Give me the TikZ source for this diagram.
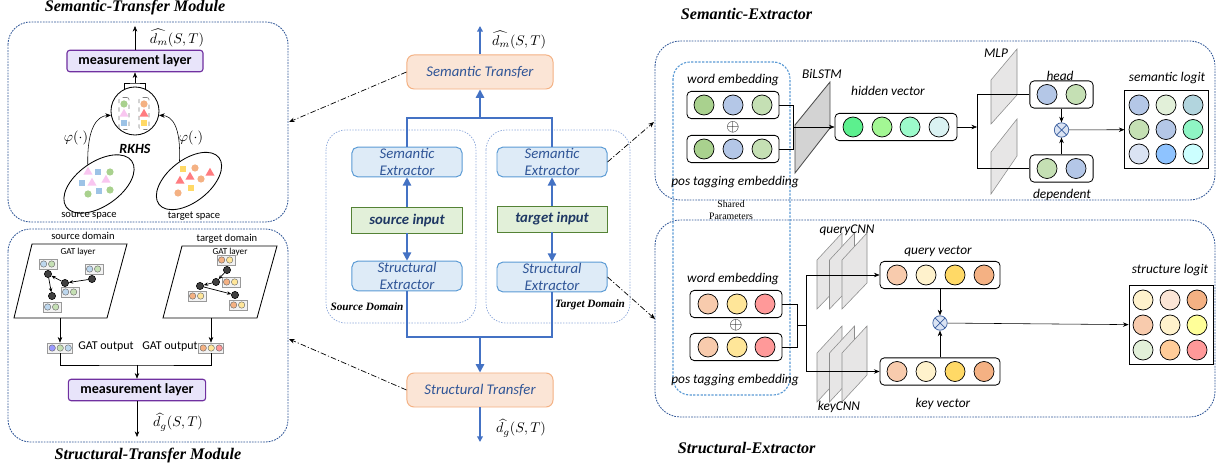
\documentclass[tikz,border=0pt]{standalone}
\usepackage{amsmath,amssymb}
\usepackage{fontspec}
\setmainfont{Liberation Serif}
\setsansfont{Carlito}
\usepackage{xcolor}
\usepackage{tikz}
\usetikzlibrary{arrows.meta, positioning, shapes.geometric, calc}

% frame and box colours
\definecolor{modframe}{HTML}{2F5597}
\definecolor{shareframe}{HTML}{5B9BD5}
\definecolor{domframe}{HTML}{8EA9DB}
\definecolor{flowblue}{HTML}{4472C4}
\definecolor{boxtext}{HTML}{2F5597}
\definecolor{trfill}{HTML}{FBE5D6}
\definecolor{trdraw}{HTML}{F4B183}
\definecolor{exfill}{HTML}{DEEBF7}
\definecolor{exdraw}{HTML}{5B9BD5}
\definecolor{infill}{HTML}{E2F0D9}
\definecolor{indraw}{HTML}{548235}
\definecolor{intext}{HTML}{1F3864}
\definecolor{msfill}{HTML}{E8E4FA}
\definecolor{msdraw}{HTML}{7030A0}
\definecolor{layergray}{HTML}{E7E6E6}
\definecolor{lstmgray}{HTML}{D3D3D3}
\definecolor{otfill}{HTML}{DAE3F3}
% cell colours
\definecolor{gA}{HTML}{A9D18E}
\definecolor{bA}{HTML}{B4C7E7}
\definecolor{gB}{HTML}{C5E0B4}
\definecolor{hA}{HTML}{5CF08E}
\definecolor{hB}{HTML}{A3F794}
\definecolor{hC}{HTML}{9CFBCB}
\definecolor{hD}{HTML}{DAF2F2}
\definecolor{sA}{HTML}{E2F0D9}
\definecolor{sB}{HTML}{B2D5DE}
\definecolor{sC}{HTML}{8FF5C4}
\definecolor{sD}{HTML}{DAE3F3}
\definecolor{sE}{HTML}{8EC3FF}
\definecolor{sF}{HTML}{CCFFFF}
\definecolor{pA}{HTML}{F8CBAD}
\definecolor{yA}{HTML}{FFE699}
\definecolor{rA}{HTML}{FF9999}
\definecolor{yB}{HTML}{FFF2CC}
\definecolor{yC}{HTML}{FFD966}
\definecolor{oA}{HTML}{F4B183}
\definecolor{pB}{HTML}{FBE5D6}
\definecolor{yD}{HTML}{FFFF99}
\definecolor{oB}{HTML}{FFCC99}
\definecolor{vA}{HTML}{9999FF}
\definecolor{bC}{HTML}{BDD7EE}
% little shapes in the two spaces
\definecolor{pinkT}{HTML}{F9C6F0}
\definecolor{blueS}{HTML}{9DC3E6}
\definecolor{greenC}{HTML}{A9D18E}
\definecolor{orangeC}{HTML}{F4B183}
\definecolor{redT}{HTML}{FF7C80}
\definecolor{yellowS}{HTML}{FFD966}

% small boxed vector: name, position, box width, cell colours
\newcommand{\minivec}[4]{%
  \node[minibox, minimum width=#3] (#1) at (#2) {};
  \foreach \col [count=\k] in {#4}
    \node[minicell, fill=\col] (#1\k) at ($(#1.west)+(\k*8-3,0)$) {};
}

\begin{document}
\begin{tikzpicture}[
    x=0.025cm, y=-0.025cm,
    >={Stealth[length=4pt,width=3.2pt]},
    module/.style={draw=modframe, line width=0.6pt, dash pattern=on 1.2pt off 0.8pt, rounded corners=16pt},
    shared/.style={draw=shareframe, line width=0.8pt, dash pattern=on 1.6pt off 1pt, rounded corners=12pt},
    domainbox/.style={draw=domframe, line width=0.5pt, dash pattern=on 1pt off 1pt, rounded corners=14pt},
    title/.style={font=\rmfamily\bfseries\itshape\fontsize{11.5}{13}\selectfont},
    domlbl/.style={font=\rmfamily\bfseries\itshape\fontsize{8}{9}\selectfont},
    measure/.style={draw=msdraw, fill=msfill, line width=0.8pt, rounded corners=2pt,
                    minimum height=0.5cm, font=\sffamily\bfseries\fontsize{10}{12}\selectfont},
    transfer/.style={draw=trdraw, fill=trfill, line width=0.7pt, rounded corners=5pt,
                     minimum width=3.65cm, minimum height=0.85cm, text=boxtext,
                     font=\sffamily\itshape\fontsize{10.5}{12}\selectfont},
    extractor/.style={draw=exdraw, fill=exfill, line width=0.7pt, rounded corners=4pt,
                      minimum width=2.75cm, minimum height=0.74cm, align=center, inner sep=1pt,
                      text=boxtext, font=\sffamily\itshape\fontsize{10.5}{11.5}\selectfont},
    inbox/.style={draw=indraw, fill=infill, line width=0.7pt, minimum width=2.75cm,
                  minimum height=0.65cm, text=intext,
                  font=\sffamily\bfseries\itshape\fontsize{10.5}{12}\selectfont},
    flowline/.style={draw=flowblue, line width=1.1pt},
    flowarrow/.style={flowline, -{Triangle[length=6pt,width=6pt]}},
    link/.style={->, line width=0.5pt, dash pattern=on 4pt off 1.5pt on 0.8pt off 1.5pt},
    vecbox/.style={draw, fill=white, line width=0.6pt, rounded corners=3pt, minimum height=0.68cm},
    cell/.style={circle, draw, line width=0.5pt, inner sep=0pt, minimum size=0.5cm},
    minibox/.style={draw=black!40, fill=black!5, line width=0.5pt, minimum height=0.25cm, inner sep=0pt},
    minicell/.style={circle, draw=black!60, line width=0.3pt, inner sep=0pt, minimum size=0.16cm},
    gdot/.style={circle, draw, fill=black!75, inner sep=0pt, minimum size=0.18cm},
    gedge/.style={-{Stealth[length=3pt,width=2.5pt]}, line width=0.5pt},
    otimes/.style={circle, draw=flowblue!80!black, fill=otfill, line width=0.5pt, inner sep=0pt,
                   minimum size=0.36cm,
                   path picture={\draw[flowblue!80!black, line width=0.5pt]
                     (path picture bounding box.north west) -- (path picture bounding box.south east)
                     (path picture bounding box.north east) -- (path picture bounding box.south west);}},
    oplus/.style={inner sep=0pt, font=\fontsize{13}{13}\selectfont},
    lbl/.style={font=\sffamily\itshape\fontsize{9.5}{11}\selectfont},
    sm/.style={font=\sffamily\fontsize{7.5}{9}\selectfont},
    tinylbl/.style={font=\sffamily\fontsize{6.5}{8}\selectfont},
    mathlbl/.style={inner sep=0.5pt, font=\fontsize{10}{12}\selectfont},
    plane/.style={draw, fill=white, line width=0.6pt},
    layer/.style={draw=black!45, fill=layergray, line width=0.4pt},
    dotshape/.style={circle, inner sep=0pt, minimum size=0.18cm},
    trishape/.style={regular polygon, regular polygon sides=3, inner sep=0pt, minimum size=0.26cm},
    sqshape/.style={rectangle, inner sep=0pt, minimum size=0.17cm},
  ]

  \path[use as bounding box, fill=white] (0,0) rectangle (1222,471);

  %% ---------- Semantic-Transfer module ----------
  \node[title] (sttitle) at (135,8) {Semantic-Transfer Module};
  \draw[module] (8,22) rectangle (288,222);

  \node[measure, minimum width=3.4cm] (msA) at (135,61) {measurement layer};
  \coordinate (dmA) at (135,26);
  \draw[->] (msA.north) -- (dmA);
  \node[mathlbl] (dmAlbl) at (177,38) {$\widehat{d_m}(S,T)$};

  % RKHS ball with the two mapped sets
  \node[circle, draw, line width=0.6pt, minimum size=1.2cm] (rkhs) at (135,111) {};
  \node[draw=black!50, dashed, rounded corners=1.5pt, minimum width=0.25cm, minimum height=0.8cm] (srcbag) at (124,113.5) {};
  \node[draw=black!50, dashed, rounded corners=1.5pt, minimum width=0.25cm, minimum height=0.8cm] (tgtbag) at (144,113.5) {};
  \node[dotshape, fill=greenC] (sbag1) at (124,104) {};
  \node[trishape, fill=pinkT] (sbag2) at (124,114) {};
  \node[sqshape, fill=blueS] (sbag3) at (124,123) {};
  \node[dotshape, fill=orangeC] (tbag1) at (144,104) {};
  \node[trishape, fill=redT] (tbag2) at (144,114) {};
  \node[sqshape, fill=yellowS] (tbag3) at (144,123) {};
  \coordinate (rkjoin) at (135,83);
  \draw (rkhs.117) |- (rkjoin) -| (rkhs.66);
  \draw[->] (rkjoin) -- (msA.south);
  \node[font=\sffamily\bfseries\itshape\fontsize{10}{12}\selectfont] (rkhslbl) at (135,149) {RKHS};

  % source and target spaces
  \node[ellipse, draw, line width=0.6pt, rotate=35, minimum width=2cm, minimum height=1.1cm] (srcspace) at (99,184) {};
  \node[ellipse, draw, line width=0.6pt, rotate=38, minimum width=1.9cm, minimum height=1.05cm] (tgtspace) at (189,181) {};
  \foreach \px/\py/\s/\col [count=\i] in {88/172/trishape/pinkT, 98/172/sqshape/blueS, 110/172/dotshape/greenC,
      82/183/sqshape/blueS, 92/183/trishape/pinkT, 106/180/trishape/pinkT,
      88/194/dotshape/greenC, 99/191/sqshape/blueS, 110/190/dotshape/greenC}
    \node[\s, fill=\col] (sp\i) at (\px,\py) {};
  \foreach \px/\py/\s/\col [count=\i] in {183/169/sqshape/yellowS, 195/168/dotshape/orangeC,
      180/181/trishape/redT, 190/177/trishape/redT, 201/179/dotshape/orangeC,
      210/173/trishape/redT, 191/188/sqshape/yellowS, 178/193/dotshape/orangeC}
    \node[\s, fill=\col] (tp\i) at (\px,\py) {};
  \draw[->] (srcspace.85) .. controls (87,126) and (98,116) .. (rkhs.190);
  \draw[->] (tgtspace.78) .. controls (181,126) and (172,116) .. (rkhs.-10);
  \node[mathlbl] (phiA) at (76,138) {$\varphi(\cdot)$};
  \node[mathlbl] (phiB) at (191,138) {$\varphi(\cdot)$};
  \node[sm] (srcspacelbl) at (89,216) {source space};
  \node[sm] (tgtspacelbl) at (194,216) {target space};

  %% ---------- Structural-Transfer module ----------
  \draw[module] (8,229) rectangle (288,442);
  \node[title] (sgtitle) at (148,456) {Structural-Transfer Module};
  \node[sm] (srcdomlbl) at (83,236) {source domain};
  \node[sm] (tgtdomlbl) at (227,239) {target domain};

  % GAT planes
  \draw[plane] (32,244) -- (127,244) -- (107,318) -- (14,318) -- cycle;
  \draw[plane] (182,246) -- (277,246) -- (257,318) -- (163,318) -- cycle;
  \node[tinylbl] (gatA) at (78,252) {GAT layer};
  \node[tinylbl] (gatB) at (230,252) {GAT layer};

  \minivec{svA}{48,264}{0.45cm}{bC,gB}
  \minivec{svB}{94,269}{0.45cm}{bC,gB}
  \minivec{svC}{70,292}{0.45cm}{bC,gB}
  \minivec{svD}{52,307}{0.45cm}{bC,gB}
  \node[gdot] (sa) at (92,279) {};
  \node[gdot] (sb) at (65,283) {};
  \node[gdot] (sc) at (48,274) {};
  \node[gdot] (sd) at (52,296) {};
  \draw[gedge] (sa) -- (sb);
  \draw[gedge] (sb) -- (sc);
  \draw[gedge] (sc) -- (sd);

  \minivec{tvA}{226,260}{0.45cm}{oA,yA}
  \minivec{tvB}{231,282}{0.45cm}{oA,yA}
  \minivec{tvC}{197,296}{0.45cm}{oA,yA}
  \minivec{tvD}{238,305}{0.45cm}{oA,yA}
  \node[gdot] (ta) at (227,270) {};
  \node[gdot] (tb) at (216,282) {};
  \node[gdot] (tc) at (200,286) {};
  \node[gdot] (td) at (235,295) {};
  \draw[gedge] (ta) -- (tb);
  \draw[gedge] (tb) -- (tc);
  \draw[gedge] (tc) -- (td);

  % GAT outputs into the measurement layer
  \minivec{gosrc}{60,348}{0.62cm}{vA,gB,bC}
  \minivec{gotgt}{211,348}{0.62cm}{oA,yA,rA}
  \coordinate (srcplane) at (60,318);
  \coordinate (tgtplane) at (211,318);
  \draw[->] (srcplane) -- (gosrc.north);
  \draw[->] (tgtplane) -- (gotgt.north);
  \node[font=\sffamily\fontsize{8.5}{10}\selectfont] (golblA) at (106,347) {GAT output};
  \node[font=\sffamily\fontsize{8.5}{10}\selectfont] (golblB) at (170,347) {GAT output};
  \coordinate (gojoin) at (137,365);
  \draw (gosrc.south) |- (gojoin) -| (gotgt.south);
  \node[measure, minimum width=3.43cm] (msB) at (137,390) {measurement layer};
  \draw[->] (gojoin) -- (msB.north);
  \coordinate (dgA) at (137,437);
  \draw[->] (msB.south) -- (dgA);
  \node[mathlbl] (dgAlbl) at (178,422) {$\widehat{d_g}(S,T)$};

  %% ---------- centre pipeline ----------
  \draw[domainbox] (326,130) rectangle (476,323);
  \draw[domainbox] (486,130) rectangle (630,323);
  \node[transfer] (semtr) at (480,72) {Semantic Transfer};
  \node[transfer] (structr) at (480,390) {Structural Transfer};
  \node[extractor] (semsrc) at (407,162) {Semantic\\Extractor};
  \node[extractor] (semtgt) at (552,162) {Semantic\\Extractor};
  \node[inbox] (srcin) at (407,220) {source input};
  \node[inbox] (tgtin) at (552,219) {target input};
  \node[extractor] (strsrc) at (407,276) {Structural\\Extractor};
  \node[extractor] (strtgt) at (552,277) {Structural\\Extractor};
  \node[domlbl] (srcdom) at (367,307) {Source Domain};
  \node[domlbl] (tgtdom) at (590,305) {Target Domain};

  \draw[flowarrow] (srcin) -- (semsrc);
  \draw[flowarrow] (tgtin) -- (semtgt);
  \draw[flowarrow] (srcin) -- (strsrc);
  \draw[flowarrow] (tgtin) -- (strtgt);
  \coordinate (semjoin) at (480,118);
  \draw[flowline] (semsrc.north) |- (semjoin) -| (semtgt.north);
  \draw[flowarrow] (semjoin) -- (semtr.south);
  \coordinate (strjoin) at (480,337);
  \draw[flowline] (strsrc.south) |- (strjoin) -| (strtgt.south);
  \draw[flowarrow] (strjoin) -- (structr.north);
  \coordinate (dmC) at (480,26);
  \coordinate (dgC) at (480,442);
  \draw[flowline, -{Triangle[length=4pt,width=4pt]}] (semtr.north) -- (dmC);
  \draw[flowline, -{Triangle[length=4pt,width=4pt]}] (structr.south) -- (dgC);
  \node[mathlbl] (dmClbl) at (519,40) {$\widehat{d_m}(S,T)$};
  \node[mathlbl] (dgClbl) at (521,428) {$\widehat{d_g}(S,T)$};

  %% ---------- Semantic-Extractor ----------
  \node[title, anchor=west] (setitle) at (676,14) {Semantic-Extractor};
  \node[title, anchor=west] (sxtitle) at (673,448) {Structural-Extractor};
  \draw[module, rounded corners=18pt] (655,41) rectangle (1215,200);
  \draw[module, rounded corners=18pt] (655,220) rectangle (1215,417);
  \draw[shared] (673,62) rectangle (790,395);
  \node[font=\rmfamily\fontsize{7}{8.5}\selectfont, align=center] (sharedlbl) at (731,210) {Shared\\Parameters};

  % embeddings
  \node[lbl] (wordAlbl) at (733,80) {word embedding};
  \node[vecbox, minimum width=2.3cm] (wordA) at (733,105) {};
  \foreach \x/\col [count=\i] in {704/gA,733/bA,762/gB}
    \node[cell, fill=\col] (wordA\i) at (\x,105) {};
  \node[oplus] (plusA) at (733,127) {$\oplus$};
  \node[vecbox, minimum width=2.3cm] (posA) at (733,149) {};
  \foreach \x/\col [count=\i] in {704/gA,733/bA,762/gB}
    \node[cell, fill=\col] (posA\i) at (\x,149) {};
  \node[lbl] (posAlbl) at (735,182) {pos tagging embedding};

  % BiLSTM
  \filldraw[draw=black!70, fill=lstmgray, line width=0.6pt] (795,125) -- (830,82) -- (830,128) -- (795,173) -- cycle;
  \node[lbl] (lstmlbl) at (822,74) {BiLSTM};
  \coordinate (embjoinA) at (793,127);
  \draw (wordA.east) -| (embjoinA);
  \draw (posA.east) -| (embjoinA);
  \node[lbl] (hiddenlbl) at (888,91) {hidden vector};
  \node[vecbox, minimum width=3.05cm] (hidden) at (896,127) {};
  \foreach \x/\col [count=\i] in {853/hA,882/hB,910/hC,939/hD}
    \node[cell, fill=\col] (hidden\i) at (\x,127) {};
  \draw[->] (embjoinA) -- (hidden.west);

  % MLP heads
  \filldraw[layer] (991,80) -- (1017,49) -- (1017,95) -- (991,124) -- cycle;
  \filldraw[layer] (991,152) -- (1017,119) -- (1017,156) -- (991,194) -- cycle;
  \node[lbl] (mlplbl) at (996,53) {MLP};
  \node[lbl] (headlbl) at (1060,76) {head};
  \node[vecbox, minimum width=1.58cm] (head) at (1061.5,94.5) {};
  \foreach \x/\col [count=\i] in {1047/bA,1076/gB}
    \node[cell, fill=\col] (head\i) at (\x,94.5) {};
  \node[vecbox, minimum width=1.58cm] (dep) at (1061.5,168.5) {};
  \foreach \x/\col [count=\i] in {1047/gB,1076/bA}
    \node[cell, fill=\col] (dep\i) at (\x,168.5) {};
  \node[lbl] (deplbl) at (1062,195) {dependent};
  \coordinate (mlpjoin) at (977,127);
  \draw[->] (hidden.east) -- (mlpjoin);
  \draw (head.west) -| (mlpjoin) |- (dep.west);

  % biaffine score
  \node[otimes] (otA) at (1061.5,130) {};
  \draw[->] (head) -- (otA);
  \draw[->] (dep) -- (otA);
  \node[lbl] (semlogitlbl) at (1167,78) {semantic logit};
  \node[draw, line width=0.6pt, minimum width=2.08cm, minimum height=1.95cm] (semlogit) at (1166.5,129.5) {};
  \foreach \col [count=\i from 0] in {bA,sA,sB,gB,bA,sC,sD,sE,sF}
    \node[cell, fill=\col] (sl\i) at ({1139+27*mod(\i,3)},{105+24.5*int(\i/3)}) {};
  \draw[->] (otA) -- (semlogit);

  %% ---------- Structural-Extractor ----------
  \node[lbl] (wordBlbl) at (733,279) {word embedding};
  \node[vecbox, minimum width=2.3cm] (wordB) at (736,304) {};
  \foreach \x/\col [count=\i] in {708/pA,737/yA,765/rA}
    \node[cell, fill=\col] (wordB\i) at (\x,304) {};
  \node[oplus] (plusB) at (736,325) {$\oplus$};
  \node[vecbox, minimum width=2.3cm] (posB) at (736,347) {};
  \foreach \x/\col [count=\i] in {708/pA,737/yA,765/rA}
    \node[cell, fill=\col] (posB\i) at (\x,347) {};
  \node[lbl] (posBlbl) at (735,380) {pos tagging embedding};

  % query / key CNN stacks
  \foreach \dx in {0,12.5,25} {
    \filldraw[layer] (817+\dx,260) -- (842+\dx,233) -- (842+\dx,283) -- (817+\dx,309) -- cycle;
    \filldraw[layer] (817+\dx,353) -- (842+\dx,326) -- (842+\dx,375) -- (817+\dx,402) -- cycle;
  }
  \node[lbl] (qcnnlbl) at (847,230) {queryCNN};
  \node[lbl] (kcnnlbl) at (839,407) {keyCNN};
  \coordinate (embjoinB) at (797,325);
  \coordinate (cnnsplit) at (806,325);
  \draw (wordB.east) -| (embjoinB);
  \draw (posB.east) -| (embjoinB);
  \draw (embjoinB) -- (cnnsplit);

  \node[lbl] (querylbl) at (938,251) {query vector};
  \node[vecbox, minimum width=3cm] (query) at (940,275) {};
  \foreach \x/\col [count=\i] in {897/pA,926/yB,955/yC,984/oA}
    \node[cell, fill=\col] (query\i) at (\x,275) {};
  \node[vecbox, minimum width=3cm] (key) at (940,371.5) {};
  \foreach \x/\col [count=\i] in {897/pA,926/yB,955/yC,984/oA}
    \node[cell, fill=\col] (key\i) at (\x,371.5) {};
  \node[lbl] (keylbl) at (943,404) {key vector};
  \draw[->] (cnnsplit) |- (query.west);
  \draw[->] (cnnsplit) |- (key.west);

  \node[otimes] (otB) at (940,323) {};
  \draw[->] (query) -- (otB);
  \draw[->] (key) -- (otB);
  \node[lbl] (strlogitlbl) at (1170,270) {structure logit};
  \node[draw, line width=0.6pt, minimum width=2.1cm, minimum height=1.97cm] (strlogit) at (1171,325) {};
  \foreach \col [count=\i from 0] in {yB,pB,oA,pA,yB,yD,sA,oB,rA}
    \node[cell, fill=\col] (xl\i) at ({1143+27*mod(\i,3)},{300+25*int(\i/3)}) {};
  \draw[->] (otB) -- (strlogit);

  %% ---------- links between panels ----------
  \coordinate (stin) at (289,122);
  \coordinate (sgin) at (289,339);
  \coordinate (sein) at (654,122);
  \coordinate (sxin) at (655,319);
  \draw[link] (semtr.west) -- (stin);
  \draw[link] (structr.west) -- (sgin);
  \draw[link] (semtgt.east) -- (sein);
  \draw[link] (strtgt.east) -- (sxin);

\end{tikzpicture}
\end{document}
